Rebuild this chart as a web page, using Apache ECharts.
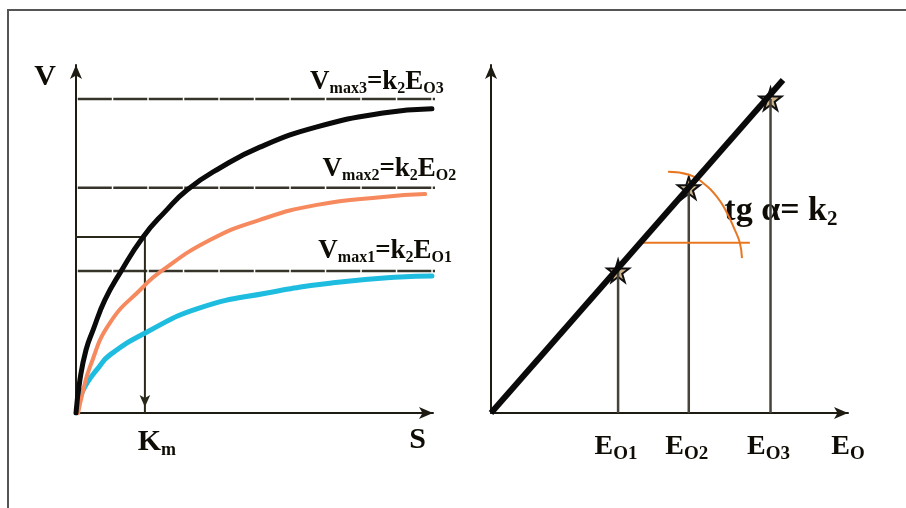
<!DOCTYPE html>
<html>
<head>
<meta charset="utf-8">
<style>
  html, body { margin: 0; padding: 0; background: #fff; }
  #chart { width: 906px; height: 508px; }
</style>
<script src="https://cdn.jsdelivr.net/npm/echarts@6/dist/echarts.min.js"></script>
</head>
<body>
<div id="chart"></div>
<script>
// left panel: V against S for three enzyme amounts
var curveE3 = [[0, 0], [1.1, 9.5], [2.8, 18.1], [4.8, 23.9], [8.1, 32.5], [12.3, 40.2], [18.8, 50.6], [24.9, 57.8], [31.1, 64.1], [40.3, 70.4], [51.5, 76.4], [67.5, 82.2], [86.0, 86.2], [99.7, 87.4]];
var curveE2 = [[0.6, 0], [1.7, 5.2], [3.9, 13.2], [9.5, 25.9], [18.8, 36.2], [23.5, 40.5], [37.5, 49.7], [51.5, 55.5], [67.5, 59.8], [86.0, 62.1], [97.8, 62.9]];
var curveE1 = [[0.3, 0], [1.1, 4.3], [3.1, 8.6], [6.2, 12.9], [9.5, 16.7], [19.9, 23.3], [34.7, 30.2], [53.5, 34.5], [72.0, 37.4], [90.8, 39.1], [99.7, 39.4]];

var vmax = [40.8, 64.7, 90.2];          // Vmax1, Vmax2, Vmax3
var vmaxLineEnd = [214, 217, 217];      // guide lines run on across the right panel
var km = 19.3;
var kmV = 50.6;

// right panel: Vmax against E0
var e0 = [35.6, 55.4, 78.3];            // E01, E02, E03
var vmaxLine = [[0, 0], [81.8, 95.7]];
var angleBase = [[41.7, 48.9], [72.5, 48.9]];
var angleArc = [[49.6, 69.3], [55.7, 68.4], [59.4, 66.1], [63.3, 62.1], [66.1, 57.5], [68.3, 52.6], [69.7, 48.9], [70.3, 44.5]];

var subs = ['1', '2', '3'];

var chart = echarts.init(document.getElementById('chart'));

var font = '"Liberation Serif", "Times New Roman", serif';
var ink = '#0e0c04';
var rich = {
  b: { fontFamily: font, fontWeight: 'bold', fontSize: 27, lineHeight: 28, color: ink },
  s: { fontFamily: font, fontWeight: 'bold', fontSize: 16, lineHeight: 16, padding: [14, 0, 0, 0], color: ink },
  B: { fontFamily: font, fontWeight: 'bold', fontSize: 30, lineHeight: 32, color: ink },
  S: { fontFamily: font, fontWeight: 'bold', fontSize: 18, lineHeight: 18, padding: [16, 0, 0, 0], color: ink },
  E: { fontFamily: font, fontWeight: 'bold', fontSize: 28, lineHeight: 30, color: ink },
  e: { fontFamily: font, fontWeight: 'bold', fontSize: 19, lineHeight: 20, padding: [14, 0, 0, 0], color: ink },
  T: { fontFamily: font, fontWeight: 'bold', fontSize: 34, lineHeight: 36, color: ink },
  t: { fontFamily: font, fontWeight: 'bold', fontSize: 21, lineHeight: 22, padding: [16, 0, 0, 0], color: ink }
};

function axisStyle(gridIndex) {
  return {
    type: 'value', gridIndex: gridIndex, min: 0, max: 100,
    axisLine: { show: true, symbol: ['none', 'arrow'], symbolSize: [9, 14], lineStyle: { color: '#1e1c12', width: 2 } },
    axisTick: { show: false }, axisLabel: { show: false }, splitLine: { show: false }
  };
}

var series = [];

// horizontal Vmax guides
vmax.forEach(function (v, i) {
  series.push({
    type: 'line', xAxisIndex: 0, yAxisIndex: 0, clip: false, symbol: 'none', silent: true,
    data: [[0.5, v], [vmaxLineEnd[i], v]],
    lineStyle: { color: '#36342a', width: 2.5, type: [34, 1.5] }
  });
});

// Km construction
series.push({
  type: 'line', xAxisIndex: 0, yAxisIndex: 0, clip: false, symbol: 'none', silent: true,
  data: [[-0.8, kmV], [km, kmV]],
  lineStyle: { color: '#2a2818', width: 2 }
});
series.push({
  type: 'line', xAxisIndex: 0, yAxisIndex: 0, clip: false, silent: true,
  symbol: 'none',
  data: [[km, kmV], { value: [km, 0], symbol: 'arrow', symbolSize: [8, 12], symbolRotate: 180, symbolOffset: [0, -6] }],
  itemStyle: { color: '#2a2818' },
  lineStyle: { color: '#2a2818', width: 2 }
});

// saturation curves
[[curveE1, '#1ebde0', 5], [curveE2, '#f68a5e', 4], [curveE3, '#0a0a0a', 5]].forEach(function (c) {
  series.push({
    type: 'line', xAxisIndex: 0, yAxisIndex: 0, symbol: 'none', smooth: 0.5, silent: true,
    data: c[0], lineStyle: { color: c[1], width: c[2], cap: 'round' }
  });
});

// right panel: vertical drops at E0i
e0.forEach(function (e, i) {
  series.push({
    type: 'line', xAxisIndex: 1, yAxisIndex: 1, symbol: 'none', silent: true,
    data: [[e, 0], [e, vmax[i]]],
    lineStyle: { color: '#45433a', width: 2.5 }
  });
});

// angle mark
series.push({
  type: 'line', xAxisIndex: 1, yAxisIndex: 1, symbol: 'none', silent: true,
  data: angleBase, lineStyle: { color: '#e87722', width: 2 }
});
series.push({
  type: 'line', xAxisIndex: 1, yAxisIndex: 1, symbol: 'none', smooth: 0.5, silent: true,
  data: angleArc, lineStyle: { color: '#e87722', width: 2 }
});

// Vmax = k2 * E0 line
series.push({
  type: 'line', xAxisIndex: 1, yAxisIndex: 1, symbol: 'none', silent: true,
  data: vmaxLine, lineStyle: { color: '#0a0a0a', width: 6 }
});

// stars
series.push({
  type: 'scatter', xAxisIndex: 1, yAxisIndex: 1, silent: true,
  symbol: 'path://M50,0 L61,35 L98,35 L68,57 L79,91 L50,70 L21,91 L32,57 L2,35 L39,35 Z',
  symbolSize: 22,
  itemStyle: { color: '#cdb48c', borderColor: '#111', borderWidth: 2, opacity: 1 },
  data: e0.map(function (e, i) { return [e, vmax[i]]; })
});

// text on the left panel
var vmaxLabelX = [86.6, 87.8, 84.3];
var vmaxLabelGap = [6, 5, 3];
series.push({
  type: 'scatter', xAxisIndex: 0, yAxisIndex: 0, symbolSize: 0, silent: true, clip: false,
  itemStyle: { opacity: 1 },
  label: { show: true, color: ink, rich: rich },
  data: vmax.map(function (v, i) {
    return {
      value: [vmaxLabelX[i], v],
      label: { position: 'top', distance: vmaxLabelGap[i], formatter: '{b|V}{s|max' + subs[i] + '}{b|=k}{s|2}{b|E}{s|O' + subs[i] + '}' }
    };
  }).concat([
    { value: [0, 100], label: { position: 'left', distance: 20, offset: [0, 12], formatter: '{B|V}' } },
    { value: [km, 0], label: { position: 'bottom', distance: 13, offset: [12, 0], formatter: '{B|K}{S|m}' } },
    { value: [95.7, 0], label: { position: 'bottom', distance: 11, formatter: '{B|S}' } }
  ])
});

// text on the right panel
series.push({
  type: 'scatter', xAxisIndex: 1, yAxisIndex: 1, symbolSize: 0, silent: true, clip: false,
  itemStyle: { opacity: 1 },
  label: { show: true, color: ink, rich: rich },
  data: e0.map(function (e, i) {
    return { value: [e, 0], label: { position: 'bottom', distance: 19, offset: [-2, 0], formatter: '{E|E}{e|O' + subs[i] + '}' } };
  }).concat([
    { value: [100, 0], label: { position: 'bottom', distance: 19, formatter: '{E|E}{e|O}' } },
    { value: [81.2, 58], label: { position: 'inside', formatter: '{T|tg α= k}{t|2}' } }
  ])
});

chart.setOption({
  animation: false,
  backgroundColor: '#fff',
  grid: [
    { left: 76, top: 65, width: 357, height: 348 },
    { left: 491, top: 65, width: 357, height: 348 }
  ],
  xAxis: [axisStyle(0), axisStyle(1)],
  yAxis: [axisStyle(0), axisStyle(1)],
  graphic: [{
    type: 'polyline', silent: true,
    shape: { points: [[8, 508], [8, 10], [906, 10]] },
    style: { stroke: '#555', lineWidth: 2, fill: null }
  }],
  series: series
});
</script>
</body>
</html>
